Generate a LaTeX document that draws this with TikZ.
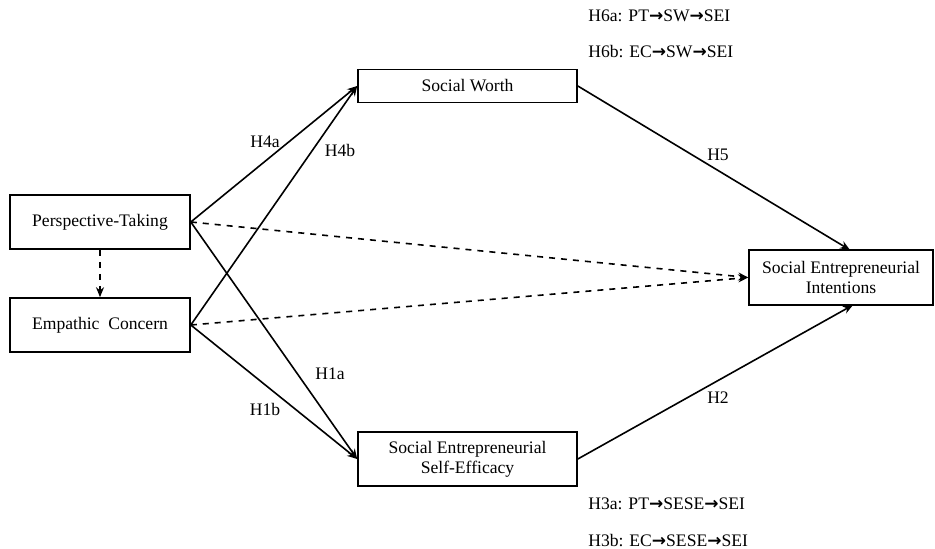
\documentclass[tikz,border=0pt]{standalone}
\usepackage{fontspec}
\setmainfont{Liberation Serif}
\newfontfamily\flechas{DejaVu Sans}
\usepackage{tikz}
\usetikzlibrary{arrows.meta}

\newcommand{\fl}{{\flechas\bfseries\fontsize{8.5}{9}\selectfont →}}

\begin{document}
\begin{tikzpicture}[x=0.5pt, y=-0.5pt,
  every node/.style={font=\fontsize{8.8}{10}\selectfont},
  caja/.style={draw, thick, rectangle, align=center, inner sep=0pt},
  flecha/.style={thick, -{Stealth[length=5pt, width=4pt]}},
  etiqueta/.style={inner sep=1pt}]

\useasboundingbox (0,0) rectangle (935,549);

% Constructos
\node[caja, minimum width=90pt, minimum height=27pt] (PT) at (100,222) {Perspective-Taking};
\node[caja, minimum width=90pt, minimum height=27pt] (EC) at (100,325) {Empathic~~Concern};
\node[caja, minimum width=109.5pt, minimum height=16.5pt] (SW) at (467.5,86) {Social Worth};
\node[caja, minimum width=109.5pt, minimum height=27pt] (SESE) at (467.5,459) {Social Entrepreneurial\\Self-Efficacy};
\node[caja, minimum width=92pt, minimum height=27.5pt] (SEI) at (841,277.5) {Social Entrepreneurial\\Intentions};

% Puntos de llegada
\coordinate (SEItop) at (850,250);
\coordinate (SEIbot) at (853,305);

% Caminos directos
\draw[flecha] (PT.east) -- (SW.west);
\draw[flecha] (EC.east) -- (SW.west);
\draw[flecha] (PT.east) -- (SESE.west);
\draw[flecha] (EC.east) -- (SESE.west);
\draw[flecha] (SW.east) -- (SEItop);
\draw[flecha] (SESE.east) -- (SEIbot);

% Caminos punteados
\draw[flecha, dashed] (PT.east) -- (SEI.west);
\draw[flecha, dashed] (EC.east) -- (SEI.west);
\draw[flecha, dashed] (PT.south) -- (EC.north);

% Hipotesis
\node[etiqueta] (H4a) at (265,142) {H4a};
\node[etiqueta] (H4b) at (340,150) {H4b};
\node[etiqueta] (H1a) at (330,374) {H1a};
\node[etiqueta] (H1b) at (265,409) {H1b};
\node[etiqueta] (H5) at (718,155) {H5};
\node[etiqueta] (H2) at (718,398) {H2};

% Mediaciones
\node[etiqueta, anchor=west] (H6a) at (586,16) {H6a: PT\fl SW\fl SEI};
\node[etiqueta, anchor=west] (H6b) at (586,52) {H6b: EC\fl SW\fl SEI};
\node[etiqueta, anchor=west] (H3a) at (586,504) {H3a: PT\fl SESE\fl SEI};
\node[etiqueta, anchor=west] (H3b) at (586,541) {H3b: EC\fl SESE\fl SEI};

\end{tikzpicture}
\end{document}
